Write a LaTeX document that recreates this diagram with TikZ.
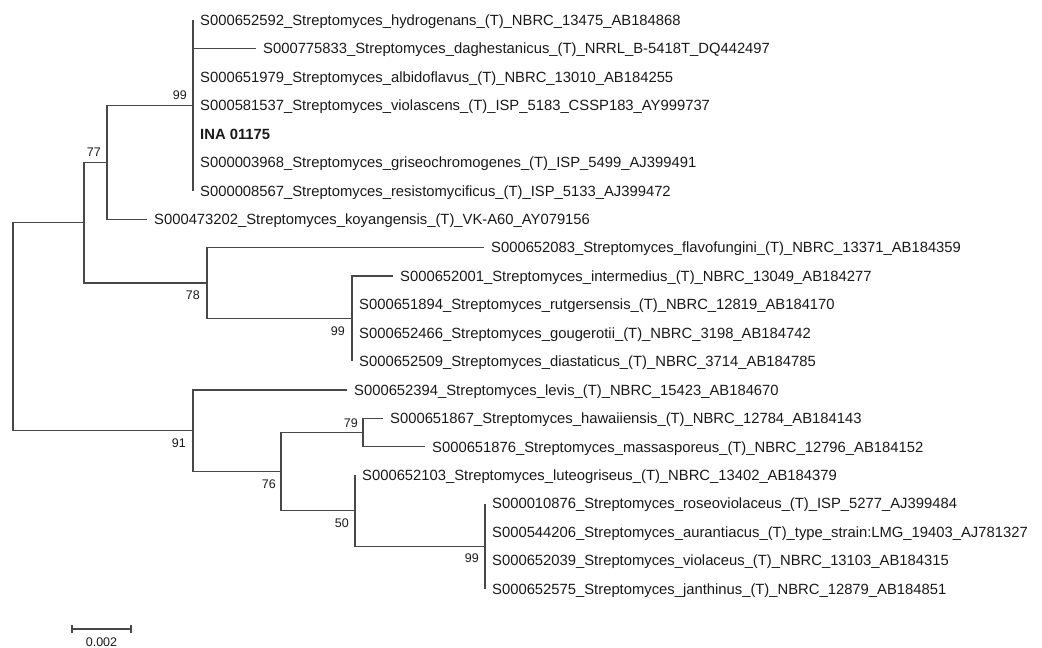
\documentclass[tikz,border=0pt]{standalone}
\usepackage{fontspec}
\setmainfont{Liberation Sans}
\definecolor{linec}{RGB}{72,72,72}
\definecolor{txt}{RGB}{25,25,25}
\begin{document}
\begin{tikzpicture}[x=1pt,y=-1pt,
  br/.style={draw=linec, line width=1.3pt},
  leaf/.style={anchor=west, inner xsep=7pt, inner ysep=0pt, text height=10.6pt, text depth=0pt, font=\fontsize{14.8}{16}\selectfont, text=txt},
  bsup/.style={anchor=east, inner sep=0pt, text height=9pt, text depth=0pt, font=\fontsize{12.5}{14}\selectfont, text=txt},
  scaletxt/.style={inner sep=0pt, font=\fontsize{12.5}{14}\selectfont, text=txt}]
\useasboundingbox (0,0) rectangle (1042,648);
% internal nodes
\coordinate (root) at (13,326.7);
\coordinate (nA) at (84,222.7);
\coordinate (n77) at (107,162.3);
\coordinate (n99a) at (193,105.35);
\coordinate (n78) at (207,283.1);
\coordinate (n99b) at (352,318.7);
\coordinate (n91) at (193,430.7);
\coordinate (n76) at (281,471.6);
\coordinate (n79) at (363,432.5);
\coordinate (n50) at (355,510.7);
\coordinate (n99c) at (485,546.3);
% leaves
\node[leaf] (l0) at (193,20) {S000652592\_Streptomyces\_hydrogenans\_(T)\_NBRC\_13475\_AB184868};
\node[leaf] (l1) at (256,48.45) {S000775833\_Streptomyces\_daghestanicus\_(T)\_NRRL\_B-5418T\_DQ442497};
\node[leaf] (l2) at (193,76.9) {S000651979\_Streptomyces\_albidoflavus\_(T)\_NBRC\_13010\_AB184255};
\node[leaf] (l3) at (193,105.35) {S000581537\_Streptomyces\_violascens\_(T)\_ISP\_5183\_CSSP183\_AY999737};
\node[leaf] (l4) at (193,133.8) {\bfseries INA 01175};
\node[leaf] (l5) at (193,162.25) {S000003968\_Streptomyces\_griseochromogenes\_(T)\_ISP\_5499\_AJ399491};
\node[leaf] (l6) at (193,190.7) {S000008567\_Streptomyces\_resistomycificus\_(T)\_ISP\_5133\_AJ399472};
\node[leaf] (l7) at (147,219.15) {S000473202\_Streptomyces\_koyangensis\_(T)\_VK-A60\_AY079156};
\node[leaf] (l8) at (484,247.6) {S000652083\_Streptomyces\_flavofungini\_(T)\_NBRC\_13371\_AB184359};
\node[leaf] (l9) at (393,276.05) {S000652001\_Streptomyces\_intermedius\_(T)\_NBRC\_13049\_AB184277};
\node[leaf] (l10) at (352,304.5) {S000651894\_Streptomyces\_rutgersensis\_(T)\_NBRC\_12819\_AB184170};
\node[leaf] (l11) at (352,332.95) {S000652466\_Streptomyces\_gougerotii\_(T)\_NBRC\_3198\_AB184742};
\node[leaf] (l12) at (352,361.4) {S000652509\_Streptomyces\_diastaticus\_(T)\_NBRC\_3714\_AB184785};
\node[leaf] (l13) at (347,389.85) {S000652394\_Streptomyces\_levis\_(T)\_NBRC\_15423\_AB184670};
\node[leaf] (l14) at (383,418.3) {S000651867\_Streptomyces\_hawaiiensis\_(T)\_NBRC\_12784\_AB184143};
\node[leaf] (l15) at (425,446.75) {S000651876\_Streptomyces\_massasporeus\_(T)\_NBRC\_12796\_AB184152};
\node[leaf] (l16) at (355,475.2) {S000652103\_Streptomyces\_luteogriseus\_(T)\_NBRC\_13402\_AB184379};
\node[leaf] (l17) at (485,503.65) {S000010876\_Streptomyces\_roseoviolaceus\_(T)\_ISP\_5277\_AJ399484};
\node[leaf] (l18) at (485,532.1) {S000544206\_Streptomyces\_aurantiacus\_(T)\_type\_strain:LMG\_19403\_AJ781327};
\node[leaf] (l19) at (485,560.55) {S000652039\_Streptomyces\_violaceus\_(T)\_NBRC\_13103\_AB184315};
\node[leaf] (l20) at (485,589) {S000652575\_Streptomyces\_janthinus\_(T)\_NBRC\_12879\_AB184851};
% branches
\draw[br] (root) |- (nA);
\draw[br] (root) |- (n91);
\draw[br] (nA) |- (n77);
\draw[br] (nA) |- (n78);
\draw[br] (n77) |- (n99a);
\draw[br] (n77) |- (l7.west);
\foreach \i in {0,1,2,3,4,5,6} { \draw[br] (n99a) |- (l\i.west); }
\draw[br] (n78) |- (l8.west);
\draw[br] (n78) |- (n99b);
\foreach \i in {9,10,11,12} { \draw[br] (n99b) |- (l\i.west); }
\draw[br] (n91) |- (l13.west);
\draw[br] (n91) |- (n76);
\draw[br] (n76) |- (n79);
\draw[br] (n76) |- (n50);
\draw[br] (n79) |- (l14.west);
\draw[br] (n79) |- (l15.west);
\draw[br] (n50) |- (l16.west);
\draw[br] (n50) |- (n99c);
\foreach \i in {17,18,19,20} { \draw[br] (n99c) |- (l\i.west); }
% bootstrap labels
\node[bsup] (b99a) at (187,95.35) {99};
\node[bsup] (b77) at (101,152.3) {77};
\node[bsup] (b78) at (200,295.1) {78};
\node[bsup] (b99b) at (345,330.7) {99};
\node[bsup] (b91) at (186,442.7) {91};
\node[bsup] (b79) at (358,422.5) {79};
\node[bsup] (b76) at (276,483.6) {76};
\node[bsup] (b50) at (349,522.7) {50};
\node[bsup] (b99c) at (479,558.3) {99};
% scale bar
\coordinate (s1) at (72,629);
\coordinate (s2) at (131,629);
\draw[br, line width=1.2pt] (s1) -- (s2);
\draw[br, line width=1.2pt] ([yshift=-4pt]s1) -- ([yshift=4pt]s1);
\draw[br, line width=1.2pt] ([yshift=-4pt]s2) -- ([yshift=4pt]s2);
\node[scaletxt] (st) at (101.5,642) {0.002};
\end{tikzpicture}
\end{document}
